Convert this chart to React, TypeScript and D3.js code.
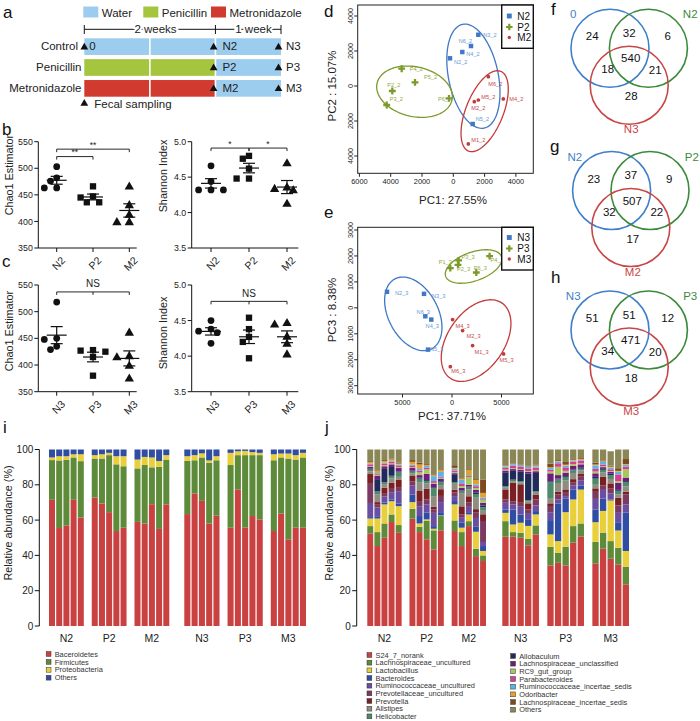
import React from 'react';
import * as d3 from 'd3';

const FONT = '"Liberation Sans", Arial, Helvetica, sans-serif';

/* ---------------- panel a data ---------------- */
const treatmentNames = ['Water', 'Penicillin', 'Metronidazole'];
const treatmentColors = ['#9dcdee', '#a4c53d', '#d13b2f'];
const armNames = ['Control', 'Penicillin', 'Metronidazole'];
const armFirstTreatment = [0, 1, 2];
const weekIdx = [0, 1, 2];
const startLabels = ['0', '', ''];
const midLabels = ['N2', 'P2', 'M2'];
const endLabels = ['N3', 'P3', 'M3'];

/* ---------------- panels b, c data ---------------- */
const cats2 = ['N2', 'P2', 'M2'];
const cats3 = ['N3', 'P3', 'M3'];
const chao2 = [
  [503, 482, 476, 463, 463],
  [466, 447, 445, 436, 436],
  [465, 430, 412, 398, 398],
];
const shannon2 = [
  [4.66, 4.44, 4.32, 4.32, 4.32],
  [4.8, 4.76, 4.62, 4.48, 4.48],
  [4.69, 4.35, 4.33, 4.31, 4.12],
];
const chao3 = [
  [518, 450, 448, 435, 429],
  [428, 427, 425, 415, 380],
  [460, 416, 414, 398, 374],
];
const shannon3 = [
  [4.5, 4.38, 4.35, 4.33, 4.18],
  [4.54, 4.38, 4.27, 4.2, 3.97],
  [4.46, 4.44, 4.27, 4.17, 4.02],
];
const chaoTicks = [350, 400, 450, 500, 550];
const shannonTicks = [3.5, 4.0, 4.5, 5.0];
const sigChao2 = [
  { a: 0, b: 1, at: 522, text: '**', mid: false },
  { a: 0, b: 2, at: 536, text: '**', mid: false },
];
const sigShannon2 = [
  { a: 0, b: 1, at: 4.91, text: '*', mid: false },
  { a: 1, b: 2, at: 4.91, text: '*', mid: false },
];
const sigChao3 = [{ a: 0, b: 2, at: 537, text: 'NS', mid: true }];
const sigShannon3 = [{ a: 0, b: 2, at: 4.77, text: 'NS', mid: true }];

/* ---------------- panels d, e data ---------------- */
const pcaD_N = [
  { id: 'N3_2', x: 1598, y: 2930 }, { id: 'N6_2', x: 1131, y: 2284 }, { id: 'N4_2', x: 575, y: 1941 },
  { id: 'N2_2', x: -211, y: 1582 }, { id: 'N5_2', x: 1240, y: -2170 },
];
const pcaD_P = [
  { id: 'P4_2', x: -3297, y: 988 }, { id: 'P5_2', x: -2447, y: 211 }, { id: 'P2_2', x: -3898, y: -286 },
  { id: 'P3_2', x: -4256, y: -1085 }, { id: 'P6_2', x: -275, y: -704 },
];
const pcaD_M = [
  { id: 'M6_2', x: 2237, y: 531 }, { id: 'M5_2', x: 1598, y: -800 }, { id: 'M2_2', x: 1342, y: -896 },
  { id: 'M4_2', x: 3195, y: -742 }, { id: 'M1_2', x: 958, y: -3312 },
];
const ellD = [
  { cx: 1284, cy: 560, ux: 690, uy: -2963, vx: -1553, vy: -291 },
  { cx: -2479, cy: -325, ux: 2390, uy: -491, vx: -358, vy: -1382 },
  { cx: 2003, cy: -1439, ux: 1029, uy: 2278, vx: 1105, vy: -400 },
];
const pcaE_N = [
  { id: 'N2_3', x: -6565, y: 618 }, { id: 'N3_3', x: -2828, y: 540 }, { id: 'N6_3', x: -2697, y: -324 },
  { id: 'N4_3', x: -2091, y: -452 }, { id: 'N5_3', x: -2424, y: -1610 },
];
const pcaE_P = [
  { id: 'P1_3', x: -172, y: 1529 }, { id: 'P3_3', x: 667, y: 1826 }, { id: 'P2_3', x: 606, y: 1660 },
  { id: 'P6_3', x: 2454, y: 1362 }, { id: 'P4_3', x: 3798, y: 1992 },
];
const pcaE_M = [
  { id: 'M4_3', x: 61, y: -452 }, { id: 'M2_3', x: 1071, y: -876 }, { id: 'M1_3', x: 2081, y: -1455 },
  { id: 'M5_3', x: 5212, y: -1776 }, { id: 'M6_3', x: -172, y: -2266 },
];
const ellE = [
  { cx: -3909, cy: -232, ux: 1858, uy: -1347, vx: 2222, vy: 448 },
  { cx: 2182, cy: 1594, ux: 2818, uy: 382, vx: 485, vy: -521 },
  { cx: 2434, cy: -1262, ux: 2626, uy: 1444, vx: 2343, vy: -625 },
];
const pcaDXTicks = [-6000, -4000, -2000, 0, 2000, 4000];
const pcaDYTicks = [-4000, -2000, 0, 2000, 4000];
const pcaEXTicks = [-5000, 0, 5000];
const pcaEYTicks = [-3000, -2000, -1000, 0, 1000, 2000, 3000];

/* label placement (style) */
const labelPlace: Record<string, [number, number, string]> = {
  N3_2: [5, 2, 'start'], N6_2: [1, -3, 'end'], N4_2: [4, 4, 'start'], N2_2: [4, 6, 'start'], N5_2: [3, -3, 'start'],
  P4_2: [8, 2, 'start'], P5_2: [9, -3, 'start'], P2_2: [-5, -4, 'start'], P3_2: [3, -4, 'start'], P6_2: [2, 3, 'end'],
  M6_2: [0, 9, 'start'], M5_2: [3, -1, 'start'], M2_2: [-3, 8, 'start'], M4_2: [6, 2, 'start'], M1_2: [3, -2, 'start'],
  N2_3: [8, 3, 'start'], N3_3: [8, 4, 'start'], N6_3: [-2, -2, 'middle'], N4_3: [1, 8, 'middle'], N5_3: [2, 1, 'start'],
  P1_3: [-5, -4, 'middle'], P3_3: [3, -1, 'start'], P2_3: [-1, 6, 'start'], P6_3: [4, -3, 'middle'], P4_3: [1, 6, 'start'],
  M4_3: [3, 8, 'start'], M2_3: [4, 7, 'start'], M1_3: [2, 8, 'start'], M5_3: [3, 8, 'middle'], M6_3: [1, 6, 'start'],
};

/* ---------------- panels f, g, h data ---------------- */
const vennF = { sets: ['0', 'N2', 'N3'], counts: [24, 32, 6, 540, 18, 21, 28] };
const vennG = { sets: ['N2', 'P2', 'M2'], counts: [23, 37, 9, 507, 32, 22, 17] };
const vennH = { sets: ['N3', 'P3', 'M3'], counts: [51, 51, 12, 471, 34, 20, 18] };

/* ---------------- panel i data ---------------- */
const sampleGroups = ['N2', 'P2', 'M2', 'N3', 'P3', 'M3'];
const phylumNames = ['Baceroidetes', 'Firmicutes', 'Proteobacteria', 'Others'];
const phylumColors = ['#c94141', '#5d8b3a', '#e9cf3c', '#2f4da3'];
const bacteroidetes = [71.5, 55.5, 57, 71.5, 61.5, 72.8, 69.4, 64.5, 53.8, 55.7, 59, 58.1, 69, 55, 68.9,
  63.4, 75.1, 70.9, 58.1, 62.6, 55.7, 77.4, 55.7, 62.3, 60.4, 53.8, 63.8, 49.1, 55.7, 55.7];
const firmicutes = [22.5, 38.3, 37.2, 24, 31.9, 22.1, 25.5, 32.3, 37.8, 34.8, 30.3, 33.1, 20.9, 35.2, 25.4,
  30.2, 18.8, 24.6, 34.4, 31.3, 35.5, 19.4, 41.1, 34.5, 36.4, 40.1, 31.7, 45.8, 38.6, 39.8];
const proteobacteria = [1.5, 2.4, 2, 1.8, 3.9, 1.9, 2.4, 1.3, 4.6, 5.7, 5, 4.6, 5.6, 3.3, 2.5,
  2.6, 2.9, 2.3, 1.3, 2.3, 6.9, 2.2, 2.4, 1.7, 1.3, 3.4, 2.2, 2.8, 2.5, 2.6];
const phylumOthers = [4.5, 3.8, 3.8, 2.7, 2.7, 3.2, 2.7, 1.9, 3.8, 3.8, 5.7, 4.2, 4.5, 6.5, 3.2,
  3.8, 3.2, 2.2, 6.2, 3.8, 1.9, 1, 0.8, 1.5, 1.9, 2.7, 2.3, 2.3, 3.2, 1.9];

/* ---------------- panel j data ---------------- */
const genusNames = ['S24_7_norank', 'Lachnospiraceae_uncultured', 'Lactobacillus', 'Bacteroides',
  'Ruminococcaceae_uncultured', 'Prevotellaceae_uncultured', 'Prevotella', 'Alistipes', 'Helicobacter',
  'Allobaculum', 'Lachnospiraceae_unclassified', 'RC9_gut_group', 'Parabacteroides',
  'Ruminococcaceae_incertae_sedis', 'Odoribacter', 'Lachnospiraceae_incertae_sedis', 'Others'];
const genusColors = ['#c94141', '#5d8b3a', '#e9cf3c', '#2f4da3', '#6a4ea2', '#7b3a62', '#7a1f22', '#8f8c80',
  '#4d8a6c', '#1f2c5a', '#6b1e7b', '#a9c85c', '#d53f8b', '#5fb2e6', '#e4a02e', '#7d4a1f', '#8b8655'];
const genusRows = [
  [52.5, 4.1, 4.3, 0.8, 8, 11.3, 5.1, 1.5, 1, 0.5, 1, 0.5, 1, 0.5, 0.8, 0.5, 6.6],
  [45.3, 7.9, 7.7, 1.3, 5, 1.5, 1.5, 4.5, 1.5, 7, 2, 0.5, 0.5, 0.5, 1.3, 0.3, 11.7],
  [50, 8.1, 10.8, 1, 3.5, 1.5, 3.5, 2, 1, 7.6, 1.5, 0.5, 1, 0.5, 1, 0.5, 6],
  [58.9, 4.3, 7.5, 1, 4.1, 1.9, 3.4, 2.5, 1.5, 5, 1.5, 0.5, 1, 0.5, 0.8, 0.3, 5.3],
  [52.8, 4.4, 10.7, 1.5, 7, 1.9, 4.7, 1.5, 2.5, 0.5, 2, 0.5, 1, 0.5, 0.5, 0.5, 7.5],
  [60.8, 5.6, 3.8, 4.3, 5, 2.5, 3, 1.5, 1, 0.5, 1.5, 0.5, 1, 0.5, 1.5, 1, 6],
  [53.2, 3, 1.9, 4.2, 5.3, 3.2, 5.7, 5, 2, 0.5, 1.5, 1.5, 1, 1, 2.5, 1, 7.5],
  [49.1, 10.4, 0.9, 3.8, 4.7, 2.8, 6, 3, 1.5, 0.5, 3.5, 2.5, 1, 1, 0.5, 0.5, 8.3],
  [43.4, 10.8, 0.9, 1.5, 7.5, 2, 1.5, 6, 4.5, 0.5, 2, 0.5, 1, 2.8, 0.5, 0.5, 14.1],
  [54.2, 8.1, 0.3, 1.9, 5.7, 3.5, 3.8, 2, 2, 0.5, 1.5, 0.5, 0.5, 2.8, 1, 0.5, 11.2],
  [53.8, 6, 9.1, 1.9, 2.8, 2, 1.5, 3.5, 1, 4, 1, 0.5, 1, 1, 0.5, 1.5, 8.9],
  [45.3, 7.9, 2.5, 2.8, 2.8, 2, 4.5, 7.5, 1, 0.5, 1.5, 1, 1.5, 2, 0.5, 0.3, 16.4],
  [56.6, 2.8, 3.8, 1.3, 3, 2.6, 3.4, 4, 1, 0.5, 1, 4.5, 0.5, 0.5, 2.8, 0.5, 11.2],
  [39.6, 4.2, 9.6, 2.8, 5, 3, 2, 6.5, 2, 1, 1.5, 1, 1, 1, 2.5, 0.5, 16.8],
  [36.8, 3.2, 2.5, 2.8, 2.3, 11.9, 3.8, 2, 2, 1, 1.5, 1.5, 0.5, 1, 2.6, 7.6, 17],
  [50.6, 8.8, 4.7, 1.9, 3.8, 1.9, 5.7, 1, 0.8, 7.9, 1, 0.5, 1, 0.8, 0.3, 0.3, 9],
  [50.6, 2.6, 4.3, 8.5, 2.8, 1.9, 10.4, 1, 0.8, 5, 1, 0.5, 1.5, 0.8, 0.3, 0.3, 7.7],
  [50, 2.8, 5.7, 4.7, 4.7, 1.9, 10.5, 1, 0.8, 5.3, 1, 0.5, 1.5, 0.8, 0.3, 0.3, 8.2],
  [45.7, 3.8, 7.2, 3.8, 3.5, 2, 3.5, 1, 0.8, 15, 1, 0.5, 1.5, 0.8, 0.3, 0.3, 9.3],
  [51.9, 5.1, 6.2, 1.9, 3.2, 3.4, 2.8, 1, 0.8, 10.4, 1, 0.5, 1.5, 0.8, 0.5, 0.3, 8.7],
  [34.3, 10.6, 7, 8.1, 4.2, 3.8, 1.5, 3, 9, 0.5, 4.5, 1, 1, 1, 0.5, 2, 8],
  [35.8, 5.7, 6.6, 21.3, 2.3, 2.8, 1.5, 5, 2, 0.5, 2, 4.7, 2, 1, 0.3, 0.5, 6],
  [34.3, 10.6, 19.6, 7.6, 1.5, 2.3, 1.5, 5, 2, 0.5, 2, 1, 2, 1, 0.5, 1.5, 7.1],
  [47.2, 9.4, 15.1, 5.7, 2.3, 1.5, 2, 3.5, 1.5, 0.5, 2, 1, 1.5, 0.5, 0.5, 0.8, 5],
  [50.6, 7.5, 19.2, 2.3, 3, 2, 1.5, 2, 1, 0.5, 2, 0.5, 1.5, 0.5, 0.5, 0.5, 4.9],
  [35.5, 12.2, 11.1, 7.2, 6, 4, 2, 2, 3.5, 1, 2, 1, 1.5, 2, 0.5, 1, 7.5],
  [43.8, 9.1, 12.3, 7, 4.9, 2.5, 4.9, 2.5, 1.5, 0.5, 1, 0.5, 1, 1.5, 0.3, 0.5, 6.2],
  [38.1, 10, 23, 0.5, 3.4, 2.8, 3, 2.5, 2, 1, 1, 0.5, 1, 1, 0.5, 0.5, 8.2],
  [34.9, 9.4, 9.8, 4.7, 5.3, 4.2, 4.3, 2, 2, 0.5, 4, 1, 3.8, 1.5, 0.5, 1.5, 10.6],
  [23.6, 10, 8.9, 21.7, 4.7, 5.7, 1.5, 3, 2.5, 0.5, 2, 4.7, 1.5, 1, 0.5, 2.8, 5.4],
];
const abundanceTicks = [0, 20, 40, 60, 80, 100];

/* ================= helpers ================= */
const Letter = ({ x, y, t }: { x: number; y: number; t: string }) => (
  <text x={x} y={y} fontSize={17} fill="#111">{t}</text>
);

function trianglePath(size: number) {
  return d3.symbol().type(d3.symbolTriangle).size(size)() as string;
}

/* ================= Panel a ================= */
function PanelA() {
  const tx = d3.scaleLinear().domain([0, 3]).range([84.3, 281]);
  const rowY = d3.scaleBand().domain(armNames).range([38.3, 96.7]).paddingInner(0.2);
  const legendX = [83.3, 143.3, 211];
  const tri = trianglePath(26);
  return (
    <g>
      <Letter x={3} y={18} t="a" />
      {treatmentNames.map((n, i) => (
        <g key={n}>
          <rect x={legendX[i]} y={6.5} width={15} height={11} fill={treatmentColors[i]} />
          <text x={legendX[i] + 18.5} y={17} fontSize={11.5} fill="#222">{n}</text>
        </g>
      ))}
      <line x1={tx(0)} x2={tx(3)} y1={29.3} y2={29.3} stroke="#111" strokeWidth={1} />
      {[0, 2, 3].map((w) => (
        <line key={w} x1={tx(w)} x2={tx(w)} y1={25} y2={34} stroke="#111" strokeWidth={1} />
      ))}
      <text x={155.5} y={33} fontSize={11.5} textAnchor="middle" fill="#222" stroke="#fff" strokeWidth={4}
        style={{ paintOrder: 'stroke' }}>2 weeks</text>
      <text x={253.5} y={33} fontSize={11.5} textAnchor="middle" fill="#222" stroke="#fff" strokeWidth={4}
        style={{ paintOrder: 'stroke' }}>1 week</text>
      {armNames.map((arm, r) => {
        const y0 = rowY(arm) as number;
        const h = rowY.bandwidth();
        const base = y0 + h / 2 + 3.8;
        return (
          <g key={arm}>
            {weekIdx.map((w) => {
              const col = w < 2 ? treatmentColors[armFirstTreatment[r]] : treatmentColors[0];
              const xa = tx(w) + (w > 0 ? 0.8 : 0);
              const xb = tx(w + 1) - (w < 2 ? 0.8 : 0);
              return <rect key={w} x={xa} y={y0} width={xb - xa} height={h} fill={col} />;
            })}
            <text x={r === 0 ? 78 : 81.5} y={base} fontSize={11.5} textAnchor="end" fill="#222">{arm}</text>
            {startLabels[r] && (
              <g>
                <path d={tri} transform={`translate(${tx(0)},${y0 + h / 2 + 0.5})`} fill="#111" />
                <text x={tx(0) + 5} y={base} fontSize={11.5} fill="#222">{startLabels[r]}</text>
              </g>
            )}
            <path d={tri} transform={`translate(${tx(2) - 1.8},${y0 + h / 2 + 0.5})`} fill="#111" />
            <text x={tx(2) + 7} y={base} fontSize={11.5} fill="#222">{midLabels[r]}</text>
            <path d={tri} transform={`translate(${tx(3) - 2.5},${y0 + h / 2 + 0.5})`} fill="#111" />
            <text x={tx(3) + 5} y={base} fontSize={11.5} fill="#222">{endLabels[r]}</text>
          </g>
        );
      })}
      <path d={tri} transform={`translate(${tx(0)},${103.5})`} fill="#111" />
      <text x={94.3} y={107.5} fontSize={11.5} fill="#222">Fecal sampling</text>
    </g>
  );
}

/* ================= Panels b, c ================= */
const markerTypes = [d3.symbolCircle, d3.symbolSquare, d3.symbolTriangle];
const markerSizes = [36, 40, 38];

function swarm(vals: number[], y: (v: number) => number, cx: number, step: number, minDist: number) {
  const placed: { x: number; y: number }[] = [];
  return vals.map((v) => {
    const py = y(v);
    for (const k of [0, -1, 1, -2, 2]) {
      const px = cx + k * step;
      if (placed.every((p) => Math.hypot(p.x - px, p.y - py) >= minDist)) {
        placed.push({ x: px, y: py });
        return { x: px, y: py };
      }
    }
    placed.push({ x: cx, y: py });
    return { x: cx, y: py };
  });
}

function DotPlot(props: any) {
  const { x0, x1, catRange, yTop, yBot, domain, ticks, fmt, cats, values, brackets, ylabel, ylabelX, ylabelY } = props;
  const y = d3.scaleLinear().domain(domain).range([yBot, yTop]);
  const xs = d3.scalePoint<string>().domain(cats).range(catRange);
  return (
    <g fontFamily={FONT}>
      <line x1={x0} x2={x0} y1={yTop} y2={yBot} stroke="#111" strokeWidth={1} />
      <line x1={x0} x2={x1} y1={yBot} y2={yBot} stroke="#111" strokeWidth={1} />
      {ticks.map((t: number) => (
        <g key={t}>
          <line x1={x0 - 4} x2={x0} y1={y(t)} y2={y(t)} stroke="#111" strokeWidth={1} />
          <text x={x0 - 5.5} y={y(t)} dy="0.35em" fontSize={8.8} textAnchor="end" fill="#222">{fmt(t)}</text>
        </g>
      ))}
      {cats.map((c: string) => {
        const cx = xs(c) as number;
        return (
          <g key={c}>
            <line x1={cx} x2={cx} y1={yBot} y2={yBot + 4} stroke="#111" strokeWidth={1} />
            <text x={cx + 4} y={yBot + 8} fontSize={10.5} textAnchor="end" fill="#222"
              transform={`rotate(-45 ${cx + 4} ${yBot + 8})`} dy="0.7em">{c}</text>
          </g>
        );
      })}
      {values.map((vals: number[], gi: number) => {
        const cx = xs(cats[gi]) as number;
        const pts = swarm(vals, y, cx, 6.2, 6.8);
        const m = d3.mean(vals) as number;
        const sem = (d3.deviation(vals) as number) / Math.sqrt(vals.length);
        const path = d3.symbol().type(markerTypes[gi]).size(markerSizes[gi])() as string;
        return (
          <g key={gi}>
            {pts.map((p, k) => (
              <path key={k} d={path} transform={`translate(${p.x},${p.y})`} fill="#111" />
            ))}
            <line x1={cx - 10} x2={cx + 10} y1={y(m)} y2={y(m)} stroke="#111" strokeWidth={1.2} />
            <line x1={cx} x2={cx} y1={y(m - sem)} y2={y(m + sem)} stroke="#111" strokeWidth={1.2} />
            <line x1={cx - 6} x2={cx + 6} y1={y(m + sem)} y2={y(m + sem)} stroke="#111" strokeWidth={1.2} />
            <line x1={cx - 6} x2={cx + 6} y1={y(m - sem)} y2={y(m - sem)} stroke="#111" strokeWidth={1.2} />
          </g>
        );
      })}
      {brackets.map((b: any, i: number) => {
        const xa = xs(cats[b.a]) as number;
        const xb = xs(cats[b.b]) as number;
        const yy = y(b.at);
        const xm = xs(cats[1]) as number;
        return (
          <g key={i}>
            <path d={`M${xa},${yy + 3}L${xa},${yy}L${xb},${yy}L${xb},${yy + 3}`} fill="none" stroke="#111" strokeWidth={0.9} />
            {b.mid && <line x1={xm} x2={xm} y1={yy} y2={yy + 3} stroke="#111" strokeWidth={0.9} />}
            <text x={(xa + xb) / 2} y={b.text === 'NS' ? yy - 4.5 : yy - 1.5} fontSize={b.text === 'NS' ? 10 : 8.5}
              textAnchor="middle" fill="#222">{b.text}</text>
          </g>
        );
      })}
      <text x={ylabelX} y={ylabelY} fontSize={10.8} textAnchor="middle" fill="#222"
        transform={`rotate(-90 ${ylabelX} ${ylabelY})`}>{ylabel}</text>
    </g>
  );
}

/* ================= Panels d, e ================= */
const pcaColors = ['#3f78c5', '#7b9a2a', '#c23a3b'];
const pcaLabelColors = ['#6a98d2', '#93a845', '#c54a4a'];
const pcaMarkers = [d3.symbolSquare, d3.symbolCross, d3.symbolCircle];
const pcaMarkerSizes = [20, 26, 11];

function PCAPanel(props: any) {
  const { xDomain, xRange, yDomain, yRange, box, xTicks, yTicks, groups, names, ellipses, legendY, xlabel, xlabelPos, ylabel, ylabelPos } = props;
  const x = d3.scaleLinear().domain(xDomain).range(xRange);
  const y = d3.scaleLinear().domain(yDomain).range(yRange);
  const [bx0, by0, bx1, by1] = box;
  const line = d3.line<[number, number]>().curve(d3.curveLinearClosed);
  const fmt = (v: number) => String(Math.abs(v));
  return (
    <g fontFamily={FONT}>
      <rect x={bx0} y={by0} width={bx1 - bx0} height={by1 - by0} fill="none" stroke="#222" strokeWidth={1} />
      {yTicks.map((t: number) => (
        <g key={t}>
          <line x1={bx0 - 3.5} x2={bx0} y1={y(t)} y2={y(t)} stroke="#222" />
          <text x={bx0 - 5} y={y(t)} fontSize={7.2} textAnchor="middle" fill="#222"
            transform={`rotate(-90 ${bx0 - 5} ${y(t)})`}>{fmt(t)}</text>
        </g>
      ))}
      {xTicks.map((t: number) => (
        <g key={t}>
          <line x1={x(t)} x2={x(t)} y1={by1} y2={by1 + 3.5} stroke="#222" />
          <text x={x(t)} y={by1 + 11} fontSize={7.4} textAnchor="middle" fill="#222">{fmt(t)}</text>
        </g>
      ))}
      {ellipses.map((e: any, i: number) => {
        const pts = d3.range(0, 2 * Math.PI, Math.PI / 60).map((t) => [
          x(e.cx + e.ux * Math.cos(t) + e.vx * Math.sin(t)),
          y(e.cy + e.uy * Math.cos(t) + e.vy * Math.sin(t)),
        ] as [number, number]);
        return <path key={i} d={line(pts) as string} fill="none" stroke={pcaColors[i]} strokeWidth={1.3} />;
      })}
      {groups.map((pts: any[], gi: number) => {
        const mk = d3.symbol().type(pcaMarkers[gi]).size(pcaMarkerSizes[gi])() as string;
        return (
          <g key={gi}>
            {pts.map((p) => {
              const px = x(p.x), py = y(p.y);
              const lp = labelPlace[p.id];
              return (
                <g key={p.id}>
                  <path d={mk} transform={`translate(${px},${py})`} fill={pcaColors[gi]} />
                  <text x={px + lp[0]} y={py + lp[1]} fontSize={5.6} textAnchor={lp[2] as any}
                    fill={pcaLabelColors[gi]}>{p.id}</text>
                </g>
              );
            })}
          </g>
        );
      })}
      <rect x={501.7} y={by0} width={bx1 - 501.7} height={legendY[3] - by0} fill="#fff" stroke="#111" strokeWidth={1.4} />
      {names.map((n: string, gi: number) => {
        const mk = d3.symbol().type(pcaMarkers[gi]).size(gi === 2 ? 9 : 24)() as string;
        return (
          <g key={n}>
            <path d={mk} transform={`translate(509.3,${legendY[gi]})`} fill={pcaColors[gi]} />
            <text x={517.3} y={legendY[gi] + 3.6} fontSize={10} fill="#111">{n}</text>
          </g>
        );
      })}
      <text x={xlabelPos[0]} y={xlabelPos[1]} fontSize={11.5} textAnchor="middle" fill="#222">{xlabel}</text>
      <text x={ylabelPos[0]} y={ylabelPos[1]} fontSize={11.5} textAnchor="middle" fill="#222"
        transform={`rotate(-90 ${ylabelPos[0]} ${ylabelPos[1]})`}>{ylabel}</text>
    </g>
  );
}

/* ================= Panels f, g, h ================= */
const vennColors = ['#3f7fc9', '#3b8a3b', '#c94646'];
function Venn({ ox, oy, data }: { ox: number; oy: number; data: { sets: string[]; counts: number[] } }) {
  const r = 39;
  const centers = [[-19.2, 0], [19.2, 0], [0, 37]];
  const numPos = [[-37, -12], [0, -15.5], [38.5, -12], [1.5, 10], [-21.5, 21], [26, 21.5], [2, 48]];
  const setPos = [[-56, -30], [61, -30], [2, 85]];
  return (
    <g fontFamily={FONT}>
      {centers.map((c, i) => (
        <circle key={i} cx={ox + c[0]} cy={oy + c[1]} r={r} fill="none" stroke={vennColors[i]} strokeWidth={1.6} />
      ))}
      {data.counts.map((n, i) => (
        <text key={i} x={ox + numPos[i][0]} y={oy + numPos[i][1]} dy="0.35em" fontSize={11.5} textAnchor="middle" fill="#111">{n}</text>
      ))}
      {data.sets.map((s, i) => (
        <text key={s} x={ox + setPos[i][0]} y={oy + setPos[i][1]} fontSize={11.5} textAnchor="middle" fill={vennColors[i]}>{s}</text>
      ))}
    </g>
  );
}

/* ================= Panels i, j ================= */
function StackedBars(props: any) {
  const { axisX, halves, keys, rows, colors, ylabelX, legendCols } = props;
  const y = d3.scaleLinear().domain([0, 100]).range([626, 449.5]);
  const objs = rows.map((r: number[]) => {
    const o: Record<string, number> = {};
    keys.forEach((k: string, i: number) => { o[k] = r[i]; });
    return o;
  });
  const series = d3.stack<Record<string, number>>().keys(keys)(objs);
  const left = d3.scaleBand().domain(sampleGroups.slice(0, 3)).range(halves[0]).paddingInner(0.186);
  const right = d3.scaleBand().domain(sampleGroups.slice(3)).range(halves[1]).paddingInner(0.186);
  const groupBand = (g: string) => (sampleGroups.indexOf(g) < 3 ? left : right);
  const barX = (idx: number) => {
    const g = sampleGroups[Math.floor(idx / 5)];
    const gb = groupBand(g);
    const g0 = gb(g) as number;
    const inner = d3.scaleBand<number>().domain(d3.range(5)).range([g0, g0 + gb.bandwidth()]).paddingInner(0.167);
    return { x: inner(idx % 5) as number, w: inner.bandwidth() };
  };
  return (
    <g fontFamily={FONT}>
      {series.map((s, si) => (
        <g key={si} fill={colors[si]}>
          {s.map((d, i) => {
            const b = barX(i);
            return <rect key={i} x={b.x} width={b.w} y={y(d[1])} height={Math.max(0, y(d[0]) - y(d[1]))} />;
          })}
        </g>
      ))}
      <line x1={axisX} x2={axisX} y1={y(100)} y2={y(0)} stroke="#111" strokeWidth={1} />
      {abundanceTicks.map((t) => (
        <g key={t}>
          <line x1={axisX - 4.5} x2={axisX} y1={y(t)} y2={y(t)} stroke="#111" strokeWidth={1} />
          <text x={axisX - 6} y={y(t)} dy="0.35em" fontSize={10} textAnchor="end" fill="#222">{t}</text>
        </g>
      ))}
      {sampleGroups.map((g) => {
        const gb = groupBand(g);
        return (
          <text key={g} x={(gb(g) as number) + gb.bandwidth() / 2} y={642} fontSize={10.5} textAnchor="middle" fill="#222">{g}</text>
        );
      })}
      <text x={ylabelX} y={523} fontSize={10.8} textAnchor="middle" fill="#222"
        transform={`rotate(-90 ${ylabelX} 523)`}>Relative abundance (%)</text>
      {keys.map((k: string, i: number) => {
        const col = legendCols.find((c: any) => i >= c.from && i < c.to);
        const row = i - col.from;
        const cy = col.y0 + row * col.step;
        return (
          <g key={k}>
            <rect x={col.x} y={cy - 2.4} width={4.8} height={4.8} fill={colors[i]} stroke="#333" strokeWidth={0.5} />
            <text x={col.x + 8.5} y={cy + 2.6} fontSize={7.4} fill="#333">{k}</text>
          </g>
        );
      })}
    </g>
  );
}

/* ================= App ================= */
export default function App() {
  const fmt0 = (v: number) => String(v);
  const fmt1 = d3.format('.1f');
  const phylumRows = bacteroidetes.map((v, i) => [v, firmicutes[i], proteobacteria[i], phylumOthers[i]]);
  return (
    <svg width={700} height={721} viewBox="0 0 700 721"
      style={{ position: 'absolute', left: 0, top: 0, background: '#fff', fontFamily: FONT }}>
      <g fontFamily={FONT}>
        <PanelA />
        <Letter x={2} y={135} t="b" />
        <Letter x={2} y={267} t="c" />
        <DotPlot x0={38.3} x1={136.7} catRange={[56.7, 129.3]} yTop={141.7} yBot={248} domain={[350, 550]}
          ticks={chaoTicks} fmt={fmt0} cats={cats2} values={chao2} brackets={sigChao2}
          ylabel="Chao1 Estimator" ylabelX={12.5} ylabelY={175} />
        <DotPlot x0={191.7} x1={298.3} catRange={[211, 287]} yTop={141.7} yBot={248} domain={[3.5, 5.0]}
          ticks={shannonTicks} fmt={fmt1} cats={cats2} values={shannon2} brackets={sigShannon2}
          ylabel="Shannon Index" ylabelX={166.5} ylabelY={176} />
        <DotPlot x0={38.3} x1={136.7} catRange={[56.7, 129.3]} yTop={285} yBot={391.7} domain={[350, 550]}
          ticks={chaoTicks} fmt={fmt0} cats={cats3} values={chao3} brackets={sigChao3}
          ylabel="Chao1 Estimator" ylabelX={12.5} ylabelY={331} />
        <DotPlot x0={191.7} x1={298.3} catRange={[211, 287]} yTop={285} yBot={391.7} domain={[3.5, 5.0]}
          ticks={shannonTicks} fmt={fmt1} cats={cats3} values={shannon3} brackets={sigShannon3}
          ylabel="Shannon Index" ylabelX={166.5} ylabelY={333} />

        <Letter x={324} y={17} t="d" />
        <Letter x={324} y={218} t="e" />
        <PCAPanel xDomain={[-6000, 4000]} xRange={[359.4, 515.9]} yDomain={[-4000, 4000]} yRange={[156, 16]}
          box={[357.7, 5, 533.3, 173.3]} xTicks={pcaDXTicks} yTicks={pcaDYTicks}
          groups={[pcaD_N, pcaD_P, pcaD_M]} names={['N2', 'P2', 'M2']} ellipses={ellD}
          legendY={[16, 27, 37.5, 48.3]} xlabel="PC1: 27.55%" xlabelPos={[453, 204]}
          ylabel="PC2 : 15.07%" ylabelPos={[336, 86]} />
        <PCAPanel xDomain={[-5000, 5000]} xRange={[402.5, 501.5]} yDomain={[-3000, 3000]} yRange={[385.7, 230]}
          box={[357.7, 227.3, 533.3, 394]} xTicks={pcaEXTicks} yTicks={pcaEYTicks}
          groups={[pcaE_N, pcaE_P, pcaE_M]} names={['N3', 'P3', 'M3']} ellipses={ellE}
          legendY={[237.5, 248.5, 259, 270]} xlabel="PC1: 37.71%" xlabelPos={[452, 420]}
          ylabel="PC3 : 8.38%" ylabelPos={[336, 310]} />

        <Letter x={551} y={15} t="f" />
        <Letter x={550} y={152} t="g" />
        <Letter x={551} y={283} t="h" />
        <Venn ox={629.2} oy={48.3} data={vennF} />
        <Venn ox={630.8} oy={190.5} data={vennG} />
        <Venn ox={629.2} oy={330} data={vennH} />

        <Letter x={3} y={433} t="i" />
        <Letter x={325} y={433} t="j" />
        <StackedBars axisX={39.3} halves={[[49, 169.3], [184.3, 306]]} keys={phylumNames} rows={phylumRows}
          colors={phylumColors} ylabelX={11.5}
          legendCols={[{ from: 0, to: 4, x: 46.2, y0: 654, step: 7.9 }]} />
        <StackedBars axisX={356.7} halves={[[367.3, 486], [502.3, 629]]} keys={genusNames} rows={genusRows}
          colors={genusColors} ylabelX={333}
          legendCols={[{ from: 0, to: 9, x: 367, y0: 655, step: 7.67 }, { from: 9, to: 17, x: 510.7, y0: 656, step: 7.67 }]} />
      </g>
    </svg>
  );
}
